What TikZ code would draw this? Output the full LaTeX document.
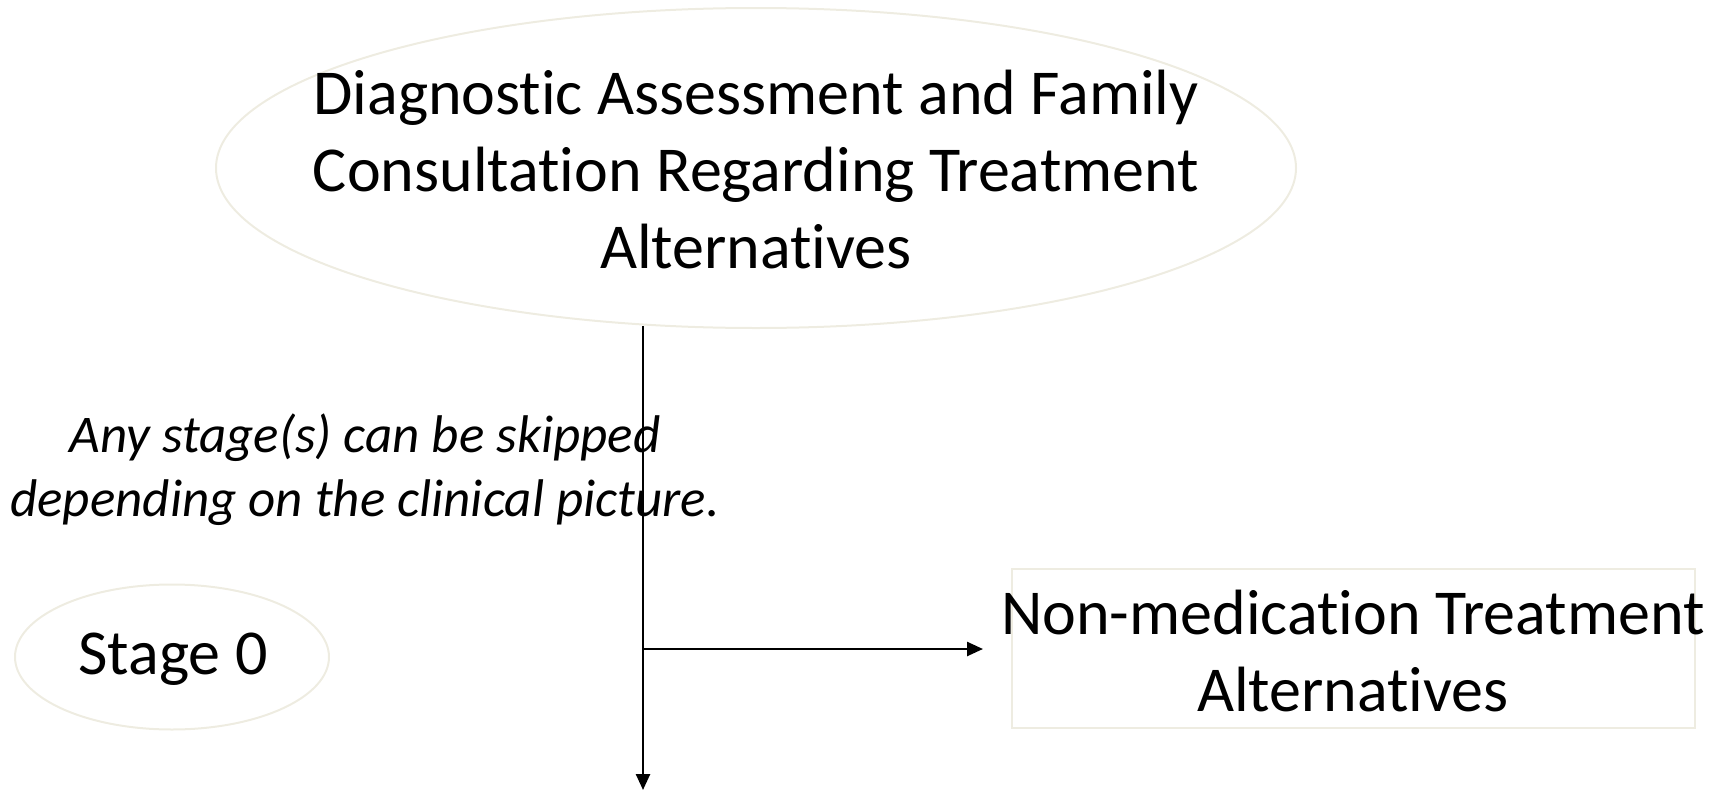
\documentclass[tikz,border=0pt]{standalone}
\usepackage{fontspec}
\setmainfont{Carlito}[Ligatures={NoCommon}]
\usetikzlibrary{shapes.geometric,arrows.meta}
\definecolor{tanline}{HTML}{EEECE1}
\tikzset{
  oval/.style={draw=tanline,line width=2pt,ellipse,inner sep=0pt},
  boxed/.style={draw=tanline,line width=2pt,rectangle,inner sep=0pt},
  bigtext/.style={align=center,font=\fontsize{64}{77}\selectfont,inner sep=0pt},
  note/.style={align=center,font=\fontsize{53}{64}\selectfont\itshape,inner sep=0pt},
  conn/.style={line width=2.5pt,-{Triangle[length=16pt,width=14pt]}}
}
\begin{document}
\begin{tikzpicture}[x=1pt,y=-1pt]
\useasboundingbox (0,0) rectangle (1725,790);
\node[oval,minimum width=1080pt,minimum height=320pt] (big) at (756,168) {};
\node[bigtext] (bigt) at (756,170) {Diagnostic Assessment and Family\\Consultation Regarding Treatment\\Alternatives};
\node[oval,minimum width=314pt,minimum height=145pt] (st) at (172,657) {};
\node[bigtext] (stt) at (173,659) {Stage 0};
\node[boxed,minimum width=683pt,minimum height=159pt] (box) at (1353.5,648.5) {};
\node[bigtext] (boxt) at (1353,651) {Non-medication Treatment\\Alternatives};
\node[note] (nt) at (365,470) {Any stage(s) can be skipped\\depending on the clinical picture.};
\coordinate (s) at (643,326);
\coordinate (j) at (643,649);
\coordinate (e) at (643,790);
\coordinate (t) at (983,649);
\draw[conn] (s) -- (e);
\draw[conn] (j) -- (t);
\end{tikzpicture}
\end{document}
